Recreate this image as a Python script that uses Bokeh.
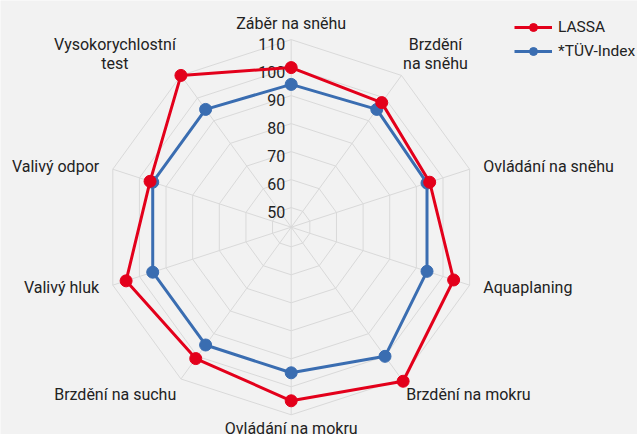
import math
from bokeh.plotting import figure
from bokeh.models import Range1d, Legend, LegendItem
from bokeh.core.properties import value
from bokeh.embed import file_html
from bokeh.resources import INLINE

# ---- data ----
categories = ["Záběr na sněhu", "Brzdění\nna sněhu", "Ovládání na sněhu", "Aquaplaning",
              "Brzdění na mokru", "Ovládání na mokru", "Brzdění na suchu", "Valivý hluk",
              "Valivý odpor", "Vysokorychlostní\ntest"]
lassa = [100, 98, 95, 104, 111, 105, 101, 105, 96, 110]
tuv = [94, 95, 94, 94, 100, 95, 95, 95, 95, 95]
ticks = [50, 60, 70, 80, 90, 100, 110]
series_names = ["LASSA", "*TÜV-Index"]

# ---- style / geometry ----
W, H = 637, 434
CX, CY = 290.7, 226.7          # centre of radar inside the figure (px)
RMIN, RMAX = 43.0, 110.0
PX = 2.8                        # px per unit
BG = "#f2f2f2"
GRID = "#d9d9d9"
RED = "#e3001b"
BLUE = "#3a6db1"
TXT = "#222222"
FONT = "Roboto"
FS = "16px"
FS_LEG = "15.5px"

n = len(categories)
angles = [2 * math.pi * i / n for i in range(n)]


def rad(v):
    return (v - RMIN) * PX


def xy(v, a):
    r = rad(v)
    return r * math.sin(a), r * math.cos(a)


p = figure(width=W, height=H, output_backend="svg", toolbar_location=None,
           x_range=Range1d(-CX, W - CX), y_range=Range1d(-(H - CY), CY),
           x_axis_type=None, y_axis_type=None, min_border=0,
           background_fill_color=BG, border_fill_color=BG, outline_line_color=None)
p.grid.visible = False

# grid rings
for t in ticks:
    pts = [xy(t, a) for a in angles] + [xy(t, angles[0])]
    p.line([q[0] for q in pts], [q[1] for q in pts], line_color=GRID, line_width=1)
# spokes
for a in angles:
    x1, y1 = xy(RMAX, a)
    p.line([0, x1], [0, y1], line_color=GRID, line_width=1)

# tick labels
p.text(x=[-6] * len(ticks), y=[rad(t) for t in ticks], text=[str(t) for t in ticks],
       text_align="right", text_baseline="middle", y_offset=4,
       text_font=value(FONT), text_font_size=FS, text_color=TXT)

# series
renderers = {}
for name, vals, col in [(series_names[1], tuv, BLUE), (series_names[0], lassa, RED)]:
    pts = [xy(v, a) for v, a in zip(vals, angles)]
    xs = [q[0] for q in pts] + [pts[0][0]]
    ys = [q[1] for q in pts] + [pts[0][1]]
    lr = p.line(xs, ys, line_color=col, line_width=3)
    sr = p.scatter([q[0] for q in pts], [q[1] for q in pts], size=12,
                   fill_color=col, line_color=col)
    renderers[name] = [lr, sr]

# category labels
r_out = rad(RMAX)
for cat, a in zip(categories, angles):
    s, c = math.sin(a), math.cos(a)
    lines = cat.split("\n")
    if len(lines) > 1:
        vx, vy = r_out * s, r_out * c
        w = max(len(l) for l in lines) * 8.0
        sign = 1 if s > 0 else -1
        ax = vx + sign * (2 + w / 2)
        ay = vy + 2
        p.text(x=[ax], y=[ay], text=[cat], text_align="center", text_baseline="bottom",
               text_line_height=1.0,
               text_font=value(FONT), text_font_size=FS, text_color=TXT)
        continue
    if abs(c) > 0.99:
        pad = 7 if c > 0 else 4
    else:
        pad = 8
    ax = (r_out + pad) * s
    ay = (r_out + pad) * c
    if abs(s) < 0.1:
        align = "center"
    elif s > 0:
        align = "left"
        if abs(c) < 0.5:
            ax += 6
    else:
        align = "right"
        if abs(c) < 0.5:
            ax -= 6
    if abs(c) < 0.5:
        base = "middle"
    elif c > 0:
        base = "bottom"
    else:
        base = "top"
    p.text(x=[ax], y=[ay], text=[cat], text_align=align, text_baseline=base,
           text_font=value(FONT), text_font_size=FS, text_color=TXT)

legend = Legend(items=[LegendItem(label=series_names[0], renderers=renderers[series_names[0]]),
                       LegendItem(label=series_names[1], renderers=renderers[series_names[1]])],
                location=(514, 373), orientation="vertical", glyph_width=38, glyph_height=20,
                label_standoff=6, padding=0, margin=0, spacing=4, label_height=20,
                label_text_font=FONT, label_text_font_size=FS_LEG, label_text_color=TXT,
                border_line_color=None, background_fill_alpha=0)
p.add_layout(legend)

html = file_html(p, INLINE)
html = html.replace("<body>", '<body style="background-color:%s;">' % BG, 1)
open("out.html", "w").write(html)
